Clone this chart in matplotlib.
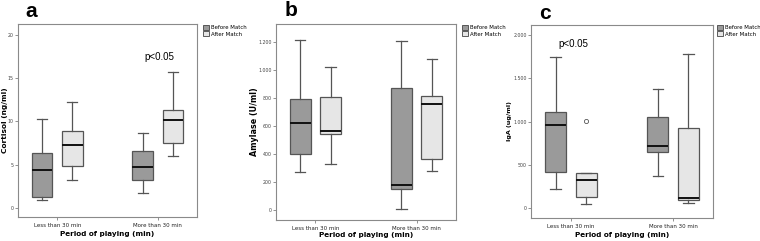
import numpy as np
import matplotlib
matplotlib.use("Agg")
import matplotlib.pyplot as plt
from matplotlib.patches import Patch

# Data: [whisker low, Q1, median, Q3, whisker high]
groups = ["Less than 30 min", "More than 30 min"]
series = ["Before Match", "After Match"]

cortisol_before = [[0.9, 1.3, 4.4, 6.35, 10.25], [1.7, 3.2, 4.75, 6.55, 8.65]]
cortisol_after = [[3.2, 4.9, 7.3, 8.9, 12.2], [6.0, 7.55, 10.2, 11.35, 15.75]]
amylase_before = [[270, 400, 622, 790, 1214], [7, 150, 174, 867, 1207]]
amylase_after = [[326, 537, 565, 802, 1022], [279, 362, 758, 814, 1076]]
iga_before = [[222, 420, 960, 1110, 1746], [369, 650, 719, 1058, 1373]]
iga_after = [[55, 125, 325, 405, 412], [58, 96, 115, 923, 1777]]
iga_after_outliers = [[1005], []]

cortisol_ticks = [0, 5, 10, 15, 20]
amylase_ticks = [0, 200, 400, 600, 800, 1000, 1200]
iga_ticks = [0, 500, 1000, 1500, 2000]

c_before = "#9a9a9a"
c_after = "#e6e6e6"
c_edge = "#555555"
c_frame = "#8a8a8a"

W, H = 760, 241
fig = plt.figure(figsize=(W / 100, H / 100), dpi=100)


def px_axes(left, right, top, bottom):
    return fig.add_axes([left / W, (H - bottom) / H, (right - left) / W, (bottom - top) / H])


def stats_list(vals, outliers=None):
    out = []
    for i, v in enumerate(vals):
        d = dict(whislo=v[0], q1=v[1], med=v[2], q3=v[3], whishi=v[4])
        d["fliers"] = outliers[i] if outliers else []
        out.append(d)
    return out


def fmt(v):
    return f"{int(v):,}".replace(",", ".")


def draw_panel(ax, before, after, ticks, ylim, ylabel, ylab_x, xlab_y,
               ylabel_size=5.8, after_out=None):
    x = np.arange(len(groups))
    for vals, off, col, outs in [(before, -0.15, c_before, None), (after, 0.15, c_after, after_out)]:
        ax.bxp(stats_list(vals, outs), positions=x + off, widths=0.205, patch_artist=True,
               showfliers=True, manage_ticks=False,
               boxprops=dict(facecolor=col, edgecolor=c_edge, linewidth=0.9),
               medianprops=dict(color="#111111", linewidth=1.4),
               whiskerprops=dict(color=c_edge, linewidth=0.9),
               capprops=dict(color=c_edge, linewidth=0.9),
               flierprops=dict(marker="o", markersize=3, markerfacecolor="none",
                               markeredgecolor="#555555", markeredgewidth=0.6))
    ax.set_xlim(-0.39, 1.39)
    ax.set_ylim(*ylim)
    ax.set_yticks(ticks)
    ax.set_yticklabels([fmt(t) for t in ticks], fontsize=3.4, color="#444444")
    ax.set_xticks(x)
    ax.set_xticklabels(groups, fontsize=4.0, color="#222222")
    ax.tick_params(axis="y", length=2, width=0.5, color="#666666", pad=1)
    ax.tick_params(axis="x", length=2, width=0.5, color="#666666", pad=2)
    for s in ax.spines.values():
        s.set_color(c_frame)
        s.set_linewidth(0.8)
    ax.set_xlabel("Period of playing (min)", fontsize=5.2, fontweight="bold")
    ax.set_ylabel(ylabel, fontsize=ylabel_size, fontweight="bold")
    ax.yaxis.set_label_coords(ylab_x, 0.5)
    ax.xaxis.set_label_coords(0.5, xlab_y)


def draw_legend(x, y):
    handles = [Patch(facecolor=c_before, edgecolor="#444444", linewidth=0.6),
               Patch(facecolor=c_after, edgecolor="#444444", linewidth=0.6)]
    fig.legend(handles, series, loc="upper left", bbox_to_anchor=(x / W, (H - y) / H),
               frameon=False, fontsize=3.9, handlelength=1.1, handleheight=1.1,
               handletextpad=0.3, labelspacing=0.15, borderaxespad=0, borderpad=0)


ax_a = px_axes(18, 197, 24, 217)
draw_panel(ax_a, cortisol_before, cortisol_after, cortisol_ticks, (-1.04, 21.27),
           "Cortisol (ng/ml)", -0.054, -0.075, ylabel_size=5.3)
ax_a.text(1.02, 17.4, "p<0.05", fontsize=7, ha="center", va="center", family="Liberation Sans")

ax_b = px_axes(276, 456, 24, 220)
draw_panel(ax_b, amylase_before, amylase_after, amylase_ticks, (-74, 1326),
           "Amylase (U/ml)", -0.094, -0.06)

ax_c = px_axes(531, 713, 25, 218)
draw_panel(ax_c, iga_before, iga_after, iga_ticks, (-112, 2115), "IgA (ug/ml)", -0.102, -0.072,
           ylabel_size=4.6, after_out=iga_after_outliers)
ax_c.text(0.02, 1895, "p<0.05", fontsize=7, ha="center", va="center", family="Liberation Sans")

draw_legend(203, 25)
draw_legend(462, 25)
draw_legend(717, 25)

for letter, lx, ly in [("a", 25, 2), ("b", 285, 1), ("c", 539, 4)]:
    fig.text(lx / W, (H - ly) / H, letter, fontsize=15, fontweight="bold",
             family="Liberation Sans", ha="left", va="top")

fig.savefig("out.png", dpi=100)
